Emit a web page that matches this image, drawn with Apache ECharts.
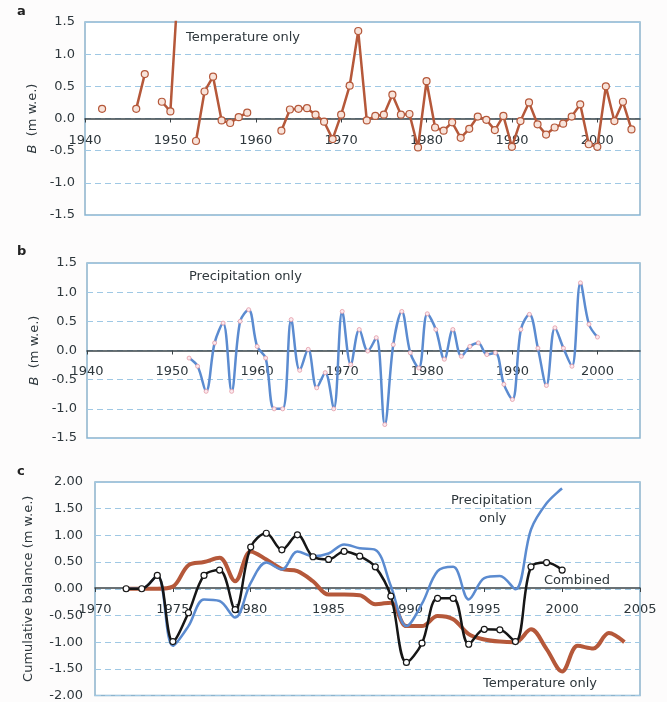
<!DOCTYPE html>
<html>
<head>
<meta charset="utf-8">
<title>Mass balance: temperature and precipitation contributions</title>
<script src="https://cdn.jsdelivr.net/npm/echarts@6/dist/echarts.min.js"></script>
<style>
  html, body { margin: 0; padding: 0; background: #fdfcfc; }
  #chart { width: 667px; height: 702px; }
</style>
</head>
<body>
<div id="chart"></div>
<script>
// ---- Panel a: annual balance, temperature only (m w.e.) ----
var tempYears = [1942, 1943, 1944, 1945, 1946, 1947, 1948, 1949, 1950, 1951, 1952, 1953, 1954,
  1955, 1956, 1957, 1958, 1959, 1960, 1961, 1962, 1963, 1964, 1965, 1966, 1967, 1968, 1969,
  1970, 1971, 1972, 1973, 1974, 1975, 1976, 1977, 1978, 1979, 1980, 1981, 1982, 1983, 1984,
  1985, 1986, 1987, 1988, 1989, 1990, 1991, 1992, 1993, 1994, 1995, 1996, 1997, 1998, 1999,
  2000, 2001, 2002, 2003, 2004];
var tempAnnual = [0.15, null, null, null, 0.15, 0.69, null, 0.26, 0.11, 2.3, null, -0.35, 0.42,
  0.65, -0.03, -0.07, 0.02, 0.09, null, null, null, -0.19, 0.14, 0.15, 0.16, 0.06, -0.05, -0.32,
  0.06, 0.51, 1.36, -0.03, 0.04, 0.06, 0.37, 0.06, 0.07, -0.45, 0.58, -0.14, -0.19, -0.06, -0.30,
  -0.16, 0.03, -0.02, -0.18, 0.04, -0.44, -0.04, 0.25, -0.09, -0.25, -0.14, -0.08, 0.03, 0.22, -0.40,
  -0.44, 0.50, -0.04, 0.26, -0.17];

// ---- Panel b: annual balance, precipitation only (m w.e.) ----
var precYears = [1952, 1953, 1954, 1955, 1956, 1957, 1958, 1959, 1960, 1961, 1962, 1963, 1964,
  1965, 1966, 1967, 1968, 1969, 1970, 1971, 1972, 1973, 1974, 1975, 1976, 1977, 1978, 1979,
  1980, 1981, 1982, 1983, 1984, 1985, 1986, 1987, 1988, 1989, 1990, 1991, 1992, 1993, 1994,
  1995, 1996, 1997, 1998, 1999, 2000];
var precAnnual = [-0.13, -0.27, -0.70, 0.13, 0.47, -0.70, 0.50, 0.70, 0.07, -0.13, -1.00, -1.00, 0.53,
  -0.34, 0.02, -0.64, -0.38, -1.00, 0.67, -0.24, 0.36, -0.01, 0.22, -1.27, 0.10, 0.67, -0.04, -0.30,
  0.63, 0.36, -0.15, 0.36, -0.10, 0.07, 0.13, -0.07, -0.04, -0.58, -0.84, 0.36, 0.62, 0.04, -0.60,
  0.39, 0.04, -0.27, 1.16, 0.45, 0.23];

// ---- Panel c: cumulative balance (m w.e.) ----
var cumYears = [1972, 1973, 1974, 1975, 1976, 1977, 1978, 1979, 1980, 1981, 1982, 1983, 1984,
  1985, 1986, 1987, 1988, 1989, 1990, 1991, 1992, 1993, 1994, 1995, 1996, 1997, 1998, 1999,
  2000, 2001, 2002, 2003, 2004];
var cumCombined = [0, 0, 0.25, -0.99, -0.45, 0.25, 0.35, -0.39, 0.78, 1.04, 0.73, 1.01, 0.60,
  0.55, 0.70, 0.61, 0.41, -0.14, -1.38, -1.02, -0.18, -0.18, -1.04, -0.76, -0.77, -0.99, 0.41, 0.49,
  0.35];
var cumPrecipitation = [0, 0, 0.25, -1.07, -0.70, -0.20, -0.23, -0.54, 0.11, 0.49, 0.36, 0.70, 0.61,
  0.66, 0.83, 0.76, 0.73, 0.05, -0.70, -0.28, 0.33, 0.41, -0.20, 0.20, 0.24, -0.01, 1.11, 1.60,
  1.88];
var cumTemperature = [0, 0, 0, 0.04, 0.44, 0.50, 0.58, 0.14, 0.70, 0.55, 0.37, 0.33, 0.14,
  -0.11, -0.11, -0.12, -0.29, -0.26, -0.70, -0.70, -0.51, -0.57, -0.85, -0.95, -0.99, -1.00, -0.76, -1.13,
  -1.55, -1.07, -1.12, -0.83, -1.00];

// Axis tick values
var annualYTicks = { min: -1.5, max: 1.5, step: 0.5 };
var cumYTicks = { min: -2, max: 2, step: 0.5 };
var annualXTicks = { min: 1940, max: 2005, step: 10 };
var cumXTicks = { min: 1970, max: 2005, step: 5 };

function pairs(xs, ys) {
  return xs.map(function (x, i) { return [x, ys[i]]; });
}

var FONT = 'DejaVu Sans, Verdana, sans-serif';
var TEXT = '#2e373c';
var RED = '#b5583a';
var BLUE = '#5b8bd0';
var BLACK = '#161616';
var GRID_DASH = '#9fc8e4';
var BORDER = '#8cb3cc';
var ZERO = '#3a4347';

// Plot rectangles of the three panels
var rectA = { left: 85, top: 22, width: 555, height: 193 };
var rectB = { left: 87, top: 263, width: 553, height: 175 };
var rectC = { left: 95, top: 482, width: 545, height: 215 };

// The year axis crosses the value axis at 0: shift it up from the bottom edge
function zeroShift(rect, ticks) {
  return -rect.height * (0 - ticks.min) / (ticks.max - ticks.min);
}

function xAxisFor(gridIndex, ticks, rect, yTicks, margin, hideMax) {
  return {
    type: 'value', gridIndex: gridIndex, position: 'bottom',
    min: ticks.min, max: ticks.max, interval: ticks.step,
    offset: zeroShift(rect, yTicks),
    axisLine: { onZero: false, lineStyle: { color: ZERO, width: 1.5 } },
    axisTick: { show: true, length: 4, lineStyle: { color: ZERO } },
    splitLine: { show: false },
    axisLabel: {
      margin: margin, fontFamily: FONT, fontSize: 13, color: TEXT,
      showMaxLabel: !hideMax, showMinLabel: true, hideOverlap: false,
      formatter: function (v) { return String(v); }
    }
  };
}

function yAxisFor(gridIndex, ticks, digits, name, gap, margin) {
  return {
    type: 'value', gridIndex: gridIndex,
    min: ticks.min, max: ticks.max, interval: ticks.step,
    axisLine: { show: false }, axisTick: { show: false },
    splitLine: { show: true, lineStyle: { color: GRID_DASH, type: [6, 4], width: 1 } },
    axisLabel: {
      margin: margin, fontFamily: FONT, fontSize: 13, color: TEXT,
      formatter: function (v) { return v.toFixed(digits); }
    },
    name: name, nameLocation: 'middle', nameGap: gap, nameRotate: 90,
    nameTextStyle: {
      fontFamily: FONT, fontSize: 13, color: TEXT,
      rich: { i: { fontFamily: FONT, fontSize: 13, color: TEXT, fontStyle: 'italic' } }
    }
  };
}

function gridAt(r) {
  return {
    left: r.left, top: r.top, width: r.width, height: r.height,
    show: true, backgroundColor: '#ffffff', borderColor: BORDER, borderWidth: 1.5
  };
}

function label(text, x, y, opts) {
  return {
    type: 'text', left: x, top: y, z: 100,
    style: Object.assign({ text: text, font: '13px ' + FONT, fill: TEXT, textAlign: 'center' }, opts || {})
  };
}

var chart = echarts.init(document.getElementById('chart'), null, { renderer: 'canvas' });

chart.setOption({
  animation: false,
  backgroundColor: '#fdfcfc',
  grid: [gridAt(rectA), gridAt(rectB), gridAt(rectC)],
  xAxis: [
    xAxisFor(0, annualXTicks, rectA, annualYTicks, 16, true),
    xAxisFor(1, annualXTicks, rectB, annualYTicks, 15, true),
    xAxisFor(2, cumXTicks, rectC, cumYTicks, 15, false)
  ],
  yAxis: [
    yAxisFor(0, annualYTicks, 1, '{i|B}  (m w.e.)', 44, 10),
    yAxisFor(1, annualYTicks, 1, '{i|B}  (m w.e.)', 46, 10),
    yAxisFor(2, cumYTicks, 2, 'Cumulative balance (m w.e.)', 60, 12)
  ],
  series: [
    {
      name: 'Temperature only', type: 'line', xAxisIndex: 0, yAxisIndex: 0,
      data: pairs(tempYears, tempAnnual), connectNulls: false, clip: true,
      symbol: 'circle', symbolSize: 7, showAllSymbol: true,
      lineStyle: { color: RED, width: 2.5 },
      itemStyle: { color: '#f8e3da', borderColor: RED, borderWidth: 1.2 }
    },
    {
      name: 'Precipitation only', type: 'line', xAxisIndex: 1, yAxisIndex: 1,
      data: pairs(precYears, precAnnual), smooth: 0.35,
      symbol: 'circle', symbolSize: 4, showAllSymbol: true,
      lineStyle: { color: BLUE, width: 2.5 },
      itemStyle: { color: '#fbe9ee', borderColor: '#e59aa6', borderWidth: 0.8 }
    },
    {
      name: 'Temperature only (cumulative)', type: 'line', xAxisIndex: 2, yAxisIndex: 2,
      data: pairs(cumYears, cumTemperature), smooth: 0.35, symbol: 'none',
      lineStyle: { color: RED, width: 4 }, z: 2
    },
    {
      name: 'Precipitation only (cumulative)', type: 'line', xAxisIndex: 2, yAxisIndex: 2,
      data: pairs(cumYears, cumPrecipitation), smooth: 0.35, symbol: 'none',
      lineStyle: { color: BLUE, width: 2.5 }, z: 3
    },
    {
      name: 'Combined', type: 'line', xAxisIndex: 2, yAxisIndex: 2,
      data: pairs(cumYears, cumCombined), smooth: 0.35,
      symbol: 'circle', symbolSize: 6, showAllSymbol: true,
      lineStyle: { color: BLACK, width: 2.5 },
      itemStyle: { color: '#ffffff', borderColor: BLACK, borderWidth: 1.2 }, z: 4
    }
  ],
  graphic: [
    label('a', 17, 5, { font: 'bold 13px ' + FONT, textAlign: 'center', fill: '#222' }),
    label('b', 17, 245, { font: 'bold 13px ' + FONT, textAlign: 'center', fill: '#222' }),
    label('c', 17, 465, { font: 'bold 13px ' + FONT, textAlign: 'center', fill: '#222' }),
    label('Temperature only', 186, 31, { textAlign: 'left' }),
    label('Precipitation only', 189, 270, { textAlign: 'left' }),
    label('Precipitation', 451, 494, { textAlign: 'left' }),
    label('only', 479, 512, { textAlign: 'left' }),
    label('Combined', 544, 574, { textAlign: 'left' }),
    label('Temperature only', 483, 677, { textAlign: 'left' })
  ]
});
</script>
</body>
</html>
